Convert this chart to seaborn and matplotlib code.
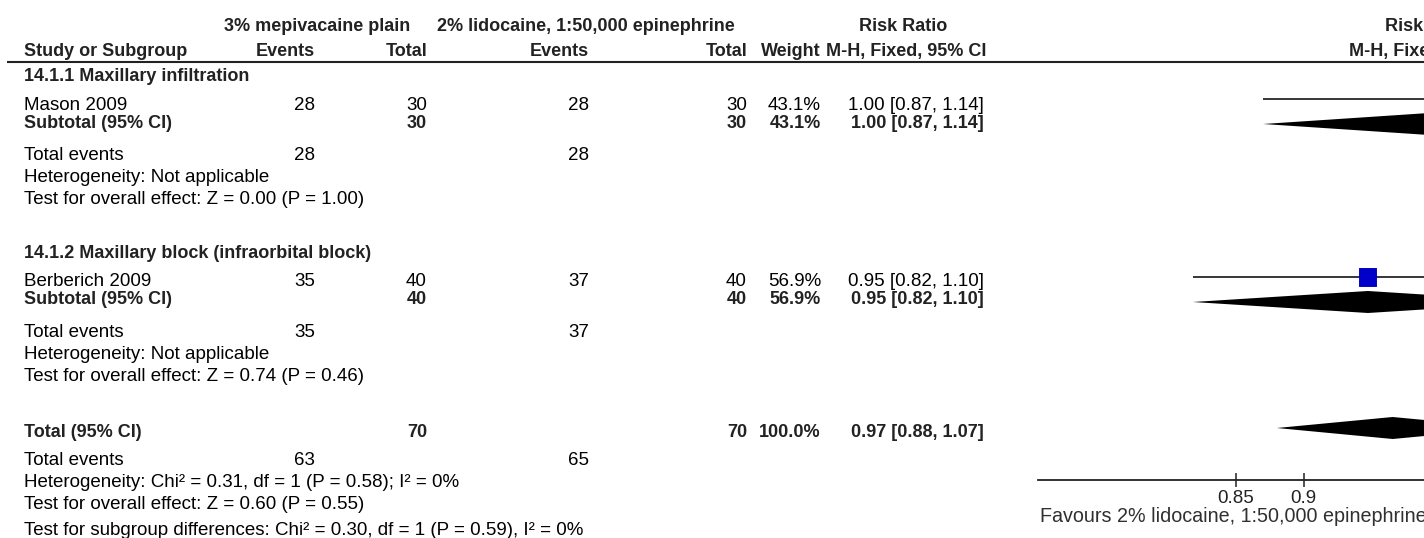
import numpy as np
import pandas as pd
import matplotlib
matplotlib.use("Agg")
import matplotlib.pyplot as plt
from matplotlib.ticker import NullLocator, FixedLocator, FixedFormatter
import seaborn as sns

# ---------------- data ----------------
studies = ["Mason 2009", "Berberich 2009"]
subgroups = ["14.1.1 Maxillary infiltration", "14.1.2 Maxillary block (infraorbital block)"]
mepi_events = [28, 35]
mepi_total = [30, 40]
lido_events = [28, 37]
lido_total = [30, 40]
weights = [43.1, 56.9]
rr = [1.00, 0.95]
ci_low = [0.87, 0.82]
ci_high = [1.14, 1.10]
sub_rr = [1.00, 0.95]
sub_low = [0.87, 0.82]
sub_high = [1.14, 1.10]
overall_tests = ["Z = 0.00 (P = 1.00)", "Z = 0.74 (P = 0.46)"]
total_rr = 0.97
total_low = 0.88
total_high = 1.07
total_weight = 100.0
total_mepi_events = 63
total_lido_events = 65
total_mepi_n = 70
total_lido_n = 70
total_het = "Heterogeneity: Chi\u00b2 = 0.31, df = 1 (P = 0.58); I\u00b2 = 0%"
total_effect = "Test for overall effect: Z = 0.60 (P = 0.55)"
subgroup_diff = "Test for subgroup differences: Chi\u00b2 = 0.30, df = 1 (P = 0.59), I\u00b2 = 0%"
axis_ticks = [0.85, 0.9, 1, 1.1, 1.2]
axis_tick_labels = ["0.85", "0.9", "1", "1.1", "1.2"]
favours_left = "Favours 2% lidocaine, 1:50,000 epinephrine"

# ---------------- layout (pixels) ----------------
W, H = 1424, 538
sns.set_theme(style="white")
plt.rcParams['font.family'] = ['Liberation Sans', 'DejaVu Sans']

fig = plt.figure(figsize=(W / 100, H / 100), dpi=100)
fig.patch.set_facecolor("white")

# forest axes: log scale, extends beyond right edge (cropped like the reference)
ax_left_px = 1038
px_per_ln = 1190
x_min = 0.72
x_max = 1 / 0.72
ax_w_px = (np.log(x_max) - np.log(x_min)) * px_per_ln
ax = fig.add_axes([ax_left_px / W, 0, ax_w_px / W, 1])
ax.set_facecolor("none")
ax.set_xscale("log")
ax.set_xlim(x_min, x_max)
ax.set_ylim(H, 0)
for s in ["top", "left", "right"]:
    ax.spines[s].set_visible(False)
ax.spines["bottom"].set_position(("data", 480))
ax.spines["bottom"].set_color("#222222")
ax.spines["bottom"].set_linewidth(1.3)
ax.xaxis.set_major_locator(FixedLocator(axis_ticks))
ax.xaxis.set_major_formatter(FixedFormatter(axis_tick_labels))
ax.xaxis.set_minor_locator(NullLocator())
ax.set_yticks([])
ax.tick_params(axis="x", direction="inout", length=10, width=1.1, color="#222222",
               pad=2, labelsize=13.5, labelcolor="#222222", bottom=True)
ax.grid(False)

study_y = [99, 277]
sub_y = [124, 302]
total_y = 428
half_h = 11

# vertical line of no effect
ax.vlines(1, 62, 480, color="#222222", lw=1)
# CI lines
ax.hlines(study_y, ci_low, ci_high, color="black", lw=1.1)
# study squares via seaborn (size by weight)
df = pd.DataFrame({"rr": rr, "y": study_y, "w": weights})
sns.scatterplot(data=df, x="rr", y="y", size="w", sizes=(60, 150), marker="s",
                color="#0000C8", edgecolor="#0000C8", legend=False, ax=ax, zorder=3)
ax.set_xlabel("")
ax.set_ylabel("")


def diamond(lo, mid, hi, y):
    ax.fill([lo, mid, hi, mid], [y, y - half_h, y, y + half_h], color="black", lw=0)


for lo, m, hi, y in zip(sub_low, sub_rr, sub_high, sub_y):
    diamond(lo, m, hi, y)
diamond(total_low, total_rr, total_high, total_y)

# ---------------- text table ----------------
tax = fig.add_axes([0, 0, 1, 1])
tax.set_xlim(0, W)
tax.set_ylim(H, 0)
tax.axis("off")

REG = dict(fontsize=13.5, color="black", va="baseline")
BOLD = dict(fontsize=13, color="#222222", fontweight="bold", va="baseline")


def t(x, y, s, ha="left", bold=False, **kw):
    st = dict(BOLD if bold else REG)
    st.update(kw)
    tax.text(x, y, s, ha=ha, **st)


c_ev1, c_tot1, c_ev2, c_tot2, c_w, c_ci = 315, 427, 589, 747, 821, 984
center_rr = 906
forest_center = ax_left_px + (np.log(1) - np.log(x_min)) * px_per_ln

# header
t(317, 31, "3% mepivacaine plain", ha="center", bold=True)
t(586, 31, "2% lidocaine, 1:50,000 epinephrine", ha="center", bold=True)
t(903, 31, "Risk Ratio", ha="center", bold=True)
t(forest_center, 31, "Risk Ratio", ha="center", bold=True)
t(24, 56, "Study or Subgroup", bold=True)
t(c_ev1, 56, "Events", ha="right", bold=True)
t(c_tot1, 56, "Total", ha="right", bold=True)
t(c_ev2, 56, "Events", ha="right", bold=True)
t(c_tot2, 56, "Total", ha="right", bold=True)
t(c_w, 56, "Weight", ha="right", bold=True)
t(center_rr, 56, "M-H, Fixed, 95% CI", ha="center", bold=True)
t(forest_center, 56, "M-H, Fixed, 95% CI", ha="center", bold=True)
tax.plot([7, W], [61.5, 61.5], color="#222222", lw=1.5, solid_capstyle="butt")

group_base = [[81, 110, 128, 160, 182, 204], [258, 286, 304, 337, 359, 381]]
for i in range(2):
    yh, ys, ysub, yte, yhet, ytest = group_base[i]
    t(24, yh, subgroups[i], bold=True)
    t(24, ys, studies[i])
    t(c_ev1, ys, f"{mepi_events[i]}", ha="right")
    t(c_tot1, ys, f"{mepi_total[i]}", ha="right")
    t(c_ev2, ys, f"{lido_events[i]}", ha="right")
    t(c_tot2, ys, f"{lido_total[i]}", ha="right")
    t(c_w, ys, f"{weights[i]:.1f}%", ha="right")
    t(c_ci, ys, f"{rr[i]:.2f} [{ci_low[i]:.2f}, {ci_high[i]:.2f}]", ha="right")
    t(24, ysub, "Subtotal (95% CI)", bold=True)
    t(c_tot1, ysub, f"{mepi_total[i]}", ha="right", bold=True)
    t(c_tot2, ysub, f"{lido_total[i]}", ha="right", bold=True)
    t(c_w, ysub, f"{weights[i]:.1f}%", ha="right", bold=True)
    t(c_ci, ysub, f"{sub_rr[i]:.2f} [{sub_low[i]:.2f}, {sub_high[i]:.2f}]", ha="right", bold=True)
    t(24, yte, "Total events")
    t(c_ev1, yte, f"{mepi_events[i]}", ha="right")
    t(c_ev2, yte, f"{lido_events[i]}", ha="right")
    t(24, yhet, "Heterogeneity: Not applicable")
    t(24, ytest, "Test for overall effect: " + overall_tests[i])

yt, yte, yhet, yeff, ydiff = 437, 465, 487, 509, 535
t(24, yt, "Total (95% CI)", bold=True)
t(c_tot1, yt, f"{total_mepi_n}", ha="right", bold=True)
t(c_tot2, yt, f"{total_lido_n}", ha="right", bold=True)
t(c_w, yt, f"{total_weight:.1f}%", ha="right", bold=True)
t(c_ci, yt, f"{total_rr:.2f} [{total_low:.2f}, {total_high:.2f}]", ha="right", bold=True)
t(24, yte, "Total events")
t(c_ev1, yte, f"{total_mepi_events}", ha="right")
t(c_ev2, yte, f"{total_lido_events}", ha="right")
t(24, yhet, total_het)
t(24, yeff, total_effect)
t(24, ydiff, subgroup_diff)

left_center = (ax_left_px + forest_center) / 2
t(left_center, 522, favours_left, ha="center", color="#303030", fontsize=14.2)

fig.savefig("out.png", dpi=100)
